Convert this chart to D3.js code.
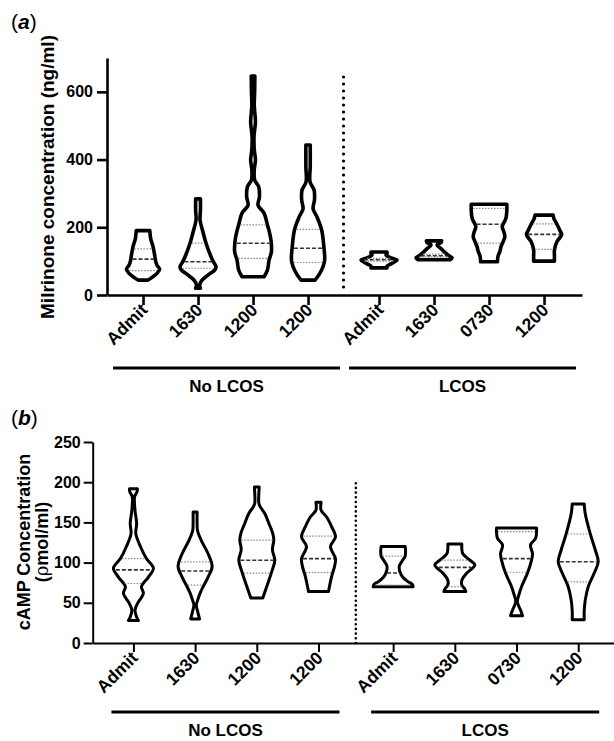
<!DOCTYPE html>
<html>
<head>
<meta charset="utf-8">
<script src="https://cdn.jsdelivr.net/npm/d3@7"></script>
<style>
  body { margin: 0; background: #fff; }
  svg text { font-family: "Liberation Sans", Arial, sans-serif; font-weight: bold; fill: #000; }
</style>
</head>
<body>
<div class="chart-box"></div>
<script>
// categories
const groups = ["No LCOS", "LCOS"];
const timesNoLcos = ["Admit", "1630", "1200", "1200"];
const timesLcos = ["Admit", "1630", "0730", "1200"];
const timeLabels = timesNoLcos.concat(timesLcos);

// (a) milrinone: violin density profiles [value, relative density]
const milrinoneProfiles = [
  [[44,.25],[52,.45],[64,.7],[76,.83],[88,.7],[100,.63],[118,.58],[143,.5],[167,.38],[190,.34]],
  [[20,.12],[30,.08],[44,.2],[59,.5],[75,.85],[84,.9],[100,.75],[113,.65],[153,.4],[192,.22],[222,.1],[250,.12],[284,.12]],
  [[54,.55],[74,.72],[103,.8],[128,.92],[160,.9],[183,.83],[207,.72],[242,.55],[265,.25],[290,.32],[320,.28],[340,.08],[370,.06],[399,.12],[430,.06],[470,.05],[511,.12],[560,.06],[600,.08],[647,.09]],
  [[44,.35],[60,.55],[84,.75],[103,.83],[143,.79],[192,.68],[230,.45],[255,.25],[280,.32],[310,.3],[334,.1],[380,.11],[443,.11]],
  [[80,.4],[85,.4],[92,.6],[103,.9],[110,.6],[118,.35],[122,.4],[127,.4]],
  [[104,.8],[110,.9],[116,.75],[125,.55],[137,.35],[148,.15],[155,.35],[160,.38]],
  [[98,.42],[115,.45],[130,.55],[143,.6],[160,.72],[172,.79],[185,.75],[202,.66],[220,.8],[231,.86],[250,.89],[268,.89]],
  [[100,.52],[115,.52],[133,.52],[158,.65],[170,.8],[179,.88],[190,.8],[212,.62],[225,.5],[236,.45]]
];
// [q1, median, q3]
const milrinoneQuartiles = [
  [72,106,136], [79,98,153], [108,153,207], [96,138,194],
  [100,104,108], [112,116,121], [153,209,256], [135,179,210]
];
const milrinoneTicks = [0, 200, 400, 600];

// (b) cAMP
const campProfiles = [
  [[28,.25],[33,.15],[41,.08],[49,.2],[62,.5],[70,.4],[82,.75],[93,1],[105,.65],[120,.35],[136,.12],[149,.16],[165,.08],[182,.06],[188,.18],[192,.2]],
  [[30,.22],[40,.12],[47,.06],[55,.15],[62,.25],[70,.4],[82,.65],[95,.85],[111,.65],[128,.3],[140,.12],[149,.1],[163,.1]],
  [[56,.3],[74,.55],[89,.75],[103,.9],[116,.78],[128,.85],[136,.8],[149,.6],[161,.4],[170,.16],[174,.1],[185,.1],[194,.12]],
  [[64,.5],[82,.65],[95,.8],[105,.85],[120,.6],[132,.85],[145,.65],[157,.4],[165,.13],[175,.13]],
  [[70,1],[73,.95],[77,.7],[85,.4],[95,.3],[102,.45],[108,.6],[115,.62],[120,.6]],
  [[64,.55],[67,.5],[72,.35],[78,.35],[87,.6],[97,1],[103,.75],[111,.4],[117,.35],[123,.35]],
  [[34,.3],[41,.2],[51,.04],[60,.12],[70,.25],[87,.55],[103,.75],[111,.8],[122,.7],[130,.95],[137,1],[143,1]],
  [[29,.3],[40,.3],[53,.35],[70,.5],[87,.8],[101,1],[116,.85],[136,.6],[161,.35],[173,.3]]
];
const campQuartiles = [
  [74,91,105], [72,89.5,101], [87,103,128], [87.5,105,133],
  [72,87,108], [70,94,103], [88,105,138.5], [76,101,135.6]
];
const campTicks = [0, 50, 100, 150, 200, 250];

const svg = d3.select(".chart-box").append("svg")
  .attr("width", 614)
  .attr("height", 741);

// linear interpolation of the density at a value
function densityAt(profile, v) {
  for (let i = 1; i < profile.length; i++) {
    const a = profile[i - 1], b = profile[i];
    if (v <= b[0]) {
      const t = (v - a[0]) / (b[0] - a[0]);
      return a[1] + t * (b[1] - a[1]);
    }
  }
  return profile[profile.length - 1][1];
}

function drawPanel(cfg) {
  const g = svg.append("g");

  const x = d3.scaleLinear().domain(cfg.xDomain).range(cfg.xRange);
  const y = d3.scaleLinear().domain([0, cfg.yMax]).range(cfg.yRange);
  const w = d3.scaleLinear().domain([0, 1]).range([0, cfg.maxHalf]);
  const slot = i => i + (i >= timesNoLcos.length ? cfg.gap : 0);
  const slots = timeLabels.map((d, i) => slot(i));

  // y axis
  const yAxis = g.append("g")
    .attr("transform", "translate(" + cfg.xRange[0] + ",0)")
    .call(d3.axisLeft(y).tickValues(cfg.ticks).tickSize(cfg.tickLen)
      .tickPadding(cfg.tickPad).tickSizeOuter(0));
  yAxis.selectAll("path, line").attr("stroke", "#000").attr("stroke-width", cfg.axisW);
  yAxis.selectAll("text").style("font-size", "16px");

  // x axis
  const xAxis = g.append("g")
    .attr("transform", "translate(0," + cfg.yRange[0] + ")")
    .call(d3.axisBottom(x).tickValues(slots).tickFormat((d, i) => timeLabels[i])
      .tickSize(cfg.tickLen).tickSizeOuter(0));
  xAxis.selectAll("path, line").attr("stroke", "#000").attr("stroke-width", cfg.axisW);
  xAxis.selectAll("text")
    .style("font-size", "17.5px")
    .attr("text-anchor", "end")
    .attr("dy", null)
    .attr("y", null)
    .attr("transform", "translate(" + cfg.labelDx + "," + cfg.labelDy + ") rotate(-45)");

  // dotted separator between groups
  const sepX = (x(slot(3)) + x(slot(4))) / 2;
  g.append("line")
    .attr("x1", sepX).attr("x2", sepX)
    .attr("y1", y(0) - cfg.sepInset).attr("y2", y(cfg.sepTop))
    .attr("stroke", "#000")
    .attr("stroke-width", cfg.sepW)
    .attr("stroke-linecap", "round")
    .attr("stroke-dasharray", "0," + cfg.sepGap);

  // violins
  cfg.profiles.forEach((profile, i) => {
    const cx = x(slot(i));
    const area = d3.area()
      .curve(d3.curveCatmullRom.alpha(0.5))
      .y(d => y(d[0]))
      .x0(d => cx - w(d[1]))
      .x1(d => cx + w(d[1]));
    g.append("path")
      .datum(profile)
      .attr("d", area)
      .attr("fill", "#fff")
      .attr("stroke", "#000")
      .attr("stroke-width", cfg.violinW)
      .attr("stroke-linejoin", "round");

    cfg.quartiles[i].forEach((q, k) => {
      const half = Math.max(w(densityAt(profile, q)) - cfg.violinW / 2, 1);
      g.append("line")
        .attr("x1", cx - half).attr("x2", cx + half)
        .attr("y1", y(q)).attr("y2", y(q))
        .attr("stroke", k === 1 ? "#333" : "#888")
        .attr("stroke-width", k === 1 ? 1.6 : 1.2)
        .attr("stroke-dasharray", k === 1 ? "4,2" : "1.5,1.5");
    });
  });

  // group brackets
  const groupSlots = [[0, 3], [4, 7]];
  groups.forEach((name, gi) => {
    const x1 = x(slot(groupSlots[gi][0])) - cfg.bracketPad[0];
    const x2 = x(slot(groupSlots[gi][1])) + cfg.bracketPad[1];
    g.append("line")
      .attr("x1", x1).attr("x2", x2)
      .attr("y1", cfg.bracketY).attr("y2", cfg.bracketY)
      .attr("stroke", "#000").attr("stroke-width", 3);
    g.append("text")
      .attr("x", (x1 + x2) / 2)
      .attr("y", cfg.bracketY + 24)
      .attr("text-anchor", "middle")
      .style("font-size", "17px")
      .text(name);
  });

  // panel letter
  const letter = g.append("text")
    .attr("x", 11).attr("y", cfg.letterY)
    .style("font-size", "21px")
    .style("font-weight", "normal");
  letter.append("tspan").text("(");
  letter.append("tspan").style("font-weight", "bold").style("font-style", "italic").text(cfg.letter);
  letter.append("tspan").text(")");

  return g;
}

const ga = drawPanel({
  profiles: milrinoneProfiles, quartiles: milrinoneQuartiles, ticks: milrinoneTicks,
  yMax: 700, yRange: [295, 58], xDomain: [-0.655, 7.98], xRange: [107, 582], gap: 0.29,
  maxHalf: 20, violinW: 3.6, axisW: 2.6, tickLen: 10, tickPad: 4,
  labelDx: 5, labelDy: 16, sepTop: 656, sepInset: 8, sepW: 3.2, sepGap: 7,
  bracketY: 368, bracketPad: [30, 32], letter: "a", letterY: 29
});
ga.append("text")
  .attr("transform", "translate(54,177) rotate(-90)")
  .attr("text-anchor", "middle")
  .style("font-size", "19px")
  .text("Milrinone concentration (ng/ml)");

const gb = drawPanel({
  profiles: campProfiles, quartiles: campQuartiles, ticks: campTicks,
  yMax: 250, yRange: [643, 442], xDomain: [-0.66, 7.79], xRange: [92.7, 614], gap: 0.21,
  maxHalf: 20, violinW: 3, axisW: 2, tickLen: 9, tickPad: 3,
  labelDx: 5, labelDy: 16, sepTop: 204, sepInset: 0, sepW: 2.6, sepGap: 4.7,
  bracketY: 712, bracketPad: [22, 21], letter: "b", letterY: 425
});
const camp = gb.append("text")
  .attr("transform", "translate(30,542) rotate(-90)")
  .attr("text-anchor", "middle")
  .style("font-size", "18px");
camp.append("tspan").attr("x", 0).attr("dy", 0).text("cAMP Concentration");
const unit = camp.append("tspan").attr("x", 0).attr("dy", 18);
unit.append("tspan").text("(");
unit.append("tspan").style("font-weight", "normal").style("font-family", "DejaVu Serif, serif").text("ρ");
unit.append("tspan").text("mol/ml)");
</script>
</body>
</html>
